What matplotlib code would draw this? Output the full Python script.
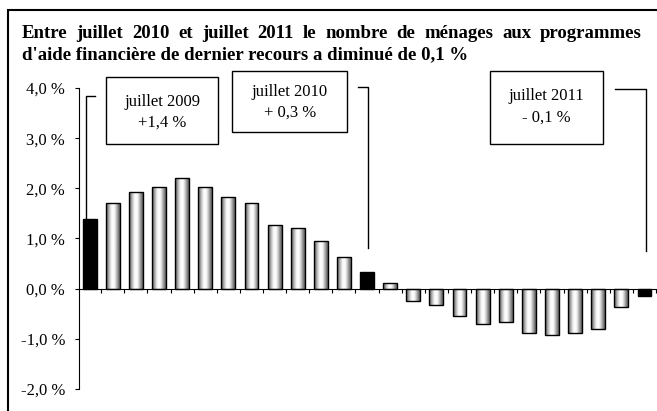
import numpy as np
import matplotlib
matplotlib.use('Agg')
import matplotlib.pyplot as plt
from matplotlib.patches import Rectangle

# variation annuelle du nombre de menages, juillet 2009 a juillet 2011
mois = ['2009-07', '2009-08', '2009-09', '2009-10', '2009-11', '2009-12',
        '2010-01', '2010-02', '2010-03', '2010-04', '2010-05', '2010-06',
        '2010-07', '2010-08', '2010-09', '2010-10', '2010-11', '2010-12',
        '2011-01', '2011-02', '2011-03', '2011-04', '2011-05', '2011-06',
        '2011-07']
variation = [1.38, 1.70, 1.93, 2.02, 2.20, 2.02, 1.82, 1.70, 1.26, 1.20, 0.96, 0.64,
             0.33, 0.12, -0.24, -0.33, -0.54, -0.70, -0.67, -0.88, -0.92, -0.88, -0.80,
             -0.36, -0.14]
mois_noirs = ['2009-07', '2010-07', '2011-07']
yticks = [-2, -1, 0, 1, 2, 3, 4]
ytick_labels = ['-2,0 %', '-1,0 %', '0,0 %', '1,0 %', '2,0 %', '3,0 %', '4,0 %']
titre1 = "Entre juillet 2010 et juillet 2011 le nombre de ménages aux programmes"
titre2 = "d'aide financière de dernier recours a diminué de 0,1 %"
boites = [("juillet 2009", "+1,4 %"), ("juillet 2010", "+ 0,3 %"), ("juillet 2011", "- 0,1 %")]

plt.rcParams['font.family'] = 'Liberation Serif'

fig = plt.figure(figsize=(6.57, 4.11), dpi=100)
ax = fig.add_axes([79/657, 22/411, 577/657, 301/411])

x = np.arange(len(mois))
bars = ax.bar(x, variation, width=0.6, color='none', edgecolor='black', linewidth=1.0, zorder=3)

# degrade gris-blanc-gris dans les barres grises
grad = np.array([[0.42, 0.6, 0.8, 0.95, 1.0, 0.95, 0.8, 0.6, 0.42]])
for m, b in zip(mois, bars):
    if m in mois_noirs:
        b.set_facecolor('black')
    else:
        bx, by = b.get_x(), b.get_y()
        im = ax.imshow(grad, cmap='gray', vmin=0, vmax=1, aspect='auto',
                       extent=[bx, bx + b.get_width(), by, by + b.get_height()],
                       zorder=2, interpolation='bilinear')
        im.set_clip_path(b)

ax.set_xlim(-0.46, 24.5)
ax.set_ylim(-2, 4)
ax.set_yticks(yticks)
ax.set_yticklabels(ytick_labels, fontsize=12)
ax.tick_params(axis='y', direction='out', length=3, width=0.8, pad=7)
ax.set_xticks(x + 0.5)
ax.set_xticklabels([])
ax.tick_params(axis='x', direction='out', length=3, width=0.8)
ax.spines['top'].set_visible(False)
ax.spines['right'].set_visible(False)
ax.spines['bottom'].set_position(('data', 0))
ax.spines['bottom'].set_zorder(4)
ax.spines['left'].set_linewidth(0.8)
ax.spines['bottom'].set_linewidth(0.8)
ax.set_aspect('auto')

# boites d'annotation
kw = dict(color='black', lw=1.0, clip_on=False, zorder=5)
box_pos = [(0.70, 2.89, 5.56, 4.21, 3.73, 3.31),
           (6.18, 3.13, 11.13, 4.33, 3.93, 3.51),
           (17.30, 2.89, 22.20, 4.33, 3.85, 3.41)]
for (l1, l2), (x0, y0, x1, y1, t1, t2) in zip(boites, box_pos):
    ax.add_patch(Rectangle((x0, y0), x1 - x0, y1 - y0, fill=False, edgecolor='black',
                           lw=1.0, clip_on=False, zorder=5))
    ax.text((x0 + x1) / 2, t1, l1, ha='center', va='center', fontsize=12, clip_on=False)
    ax.text((x0 + x1) / 2, t2, l2, ha='center', va='center', fontsize=12, clip_on=False)

# traits de rappel vers les barres noires
ax.plot([0.24, -0.165, -0.165], [3.84, 3.84, variation[0]], **kw)
ax.plot([11.61, 12.04, 12.04], [4.01, 4.01, 0.82], **kw)
ax.plot([22.72, 24.07, 24.07], [3.99, 3.99, 0.76], **kw)

# cadre
fig.patches.append(Rectangle((8/657, -0.1), 1.2, 1 - 10/411 + 0.1, transform=fig.transFigure,
                             fill=False, edgecolor='black', lw=1.5))

# titre justifie (ligne 1) et ligne 2 normale
fig.canvas.draw()
renderer = fig.canvas.get_renderer()
left, right = 22, 642
mots = titre1.split()
txts = []
widths = []
for w in mots:
    t = fig.text(0, 1 - 38.5/411, w, fontsize=13.5, fontweight='bold', va='baseline', ha='left')
    txts.append(t)
    widths.append(t.get_window_extent(renderer).width)
gap = (right - left - sum(widths)) / (len(mots) - 1)
pos = left
for t, wdt in zip(txts, widths):
    t.set_x(pos / 657)
    pos += wdt + gap
fig.text(left / 657, 1 - 59.5/411, titre2, fontsize=13.5, fontweight='bold', va='baseline', ha='left')

fig.savefig('out.png', dpi=100)
